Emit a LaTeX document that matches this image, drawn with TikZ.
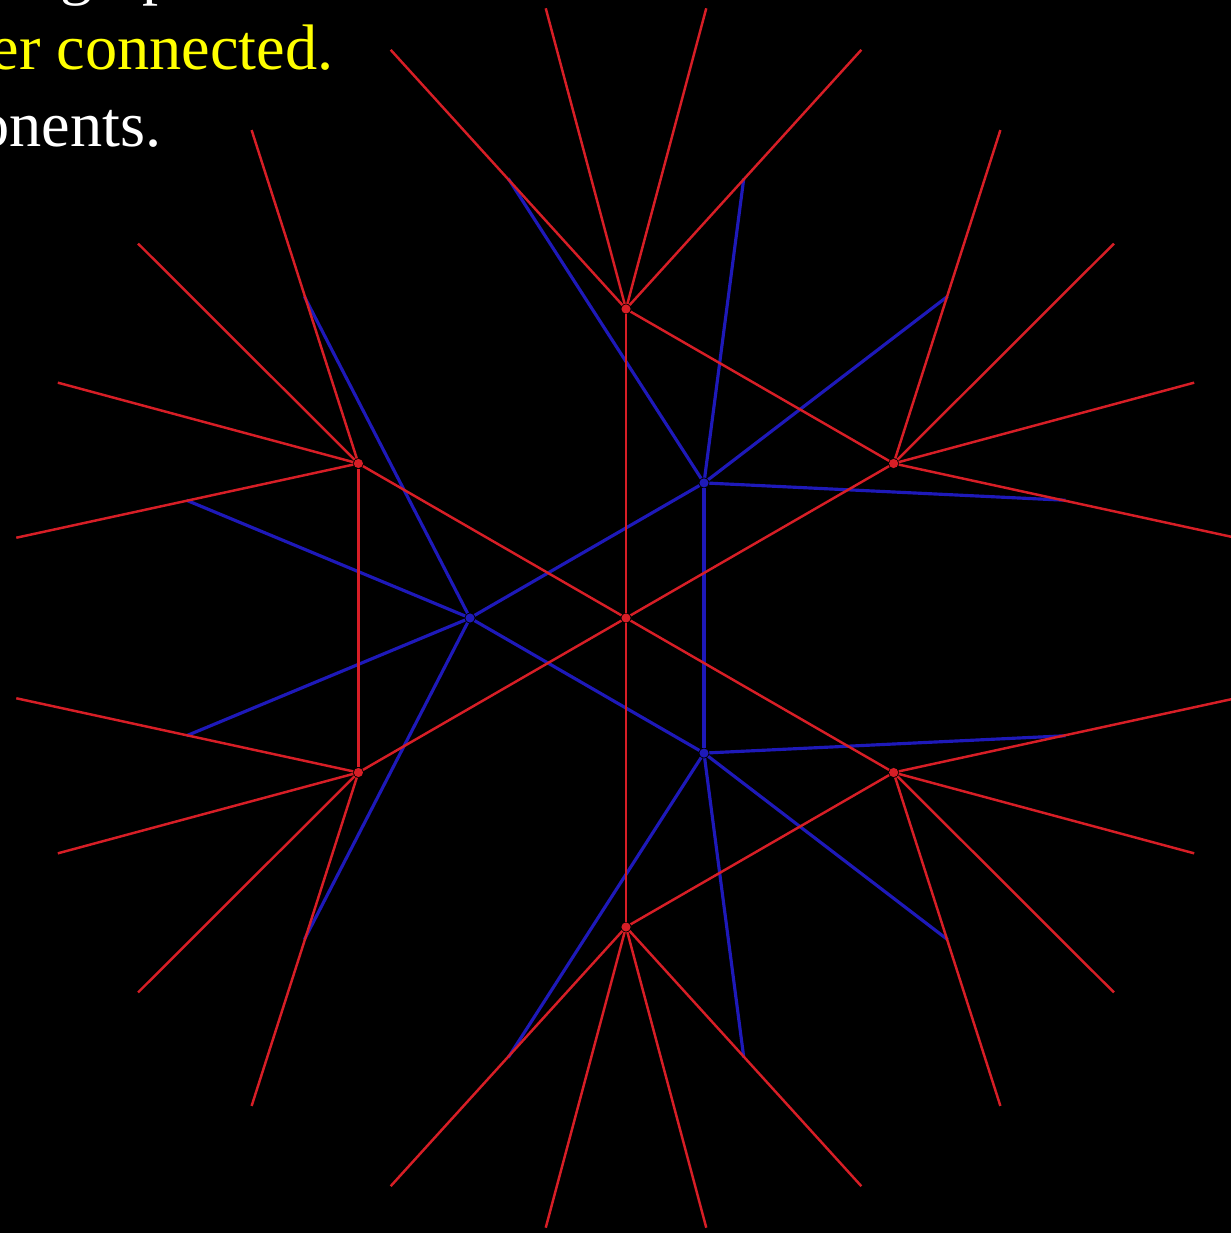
\documentclass[tikz,border=0pt]{standalone}
\usepackage{fontspec}
\setmainfont{Liberation Serif}
\usetikzlibrary{calc}
\definecolor{rline}{RGB}{215,30,38}
\definecolor{bline}{RGB}{30,25,185}
\definecolor{ylw}{RGB}{255,255,0}

\begin{document}
\begin{tikzpicture}[
    rhub/.style={circle, fill=rline, inner sep=0pt, minimum size=2.6pt},
    bhub/.style={circle, fill=bline, inner sep=0pt, minimum size=2.6pt},
    redge/.style={draw=rline, line width=0.7pt},
    bedge/.style={draw=bline, line width=0.9pt},
    txt/.style={font=\fontsize{18.3}{22}\selectfont, inner sep=0pt}
]
\fill[black] (0,0) rectangle (12.31,-12.33);
\useasboundingbox (0,0) rectangle (12.31,-12.33);
\clip (0,0) rectangle (12.31,-12.33);

% slide text, cut off at the left
\node[txt, white, anchor=base west] (t1) at (0.60,0.07) {graph};
\node[txt, ylw, anchor=base east] (t2) at (3.34,-0.70) {er connected.};
\node[txt, white, anchor=base east] (t3) at (1.62,-1.47) {onents.};

\coordinate (c) at (6.26,-6.18);

% blue graph
\node[bhub] (bl) at ($(c)+(180:1.56)$) {};
\node[bhub] (bu) at ($(c)+(60:1.56)$) {};
\node[bhub] (bd) at ($(c)+(-60:1.56)$) {};
\draw[bedge] (bl) -- (bu);
\draw[bedge] (bu) -- (bd);
\draw[bedge] (bd) -- (bl);
\foreach \h/\a in {bl/180, bu/60, bd/-60}
  \foreach \d [count=\i] in {-45,-15,15,45} {
    \coordinate (\h-\i) at ($(c)+({\a+(\d)}:4.55)$);
    \draw[bedge] (\h) -- (\h-\i);
  }

% red graph
\node[rhub] (rc) at (c) {};
\node[rhub] (rt) at ($(c)+(90:3.09)$) {};
\node[rhub] (rur) at ($(c)+(30:3.09)$) {};
\node[rhub] (rlr) at ($(c)+(-30:3.09)$) {};
\node[rhub] (rb) at ($(c)+(-90:3.09)$) {};
\node[rhub] (rll) at ($(c)+(-150:3.09)$) {};
\node[rhub] (rul) at ($(c)+(150:3.09)$) {};
\foreach \h in {rt, rur, rlr, rb, rll, rul}
  \draw[redge] (rc) -- (\h);
\draw[redge] (rt) -- (rur);
\draw[redge] (rlr) -- (rb);
\draw[redge] (rll) -- (rul);
\foreach \h/\a in {rt/90, rur/30, rlr/-30, rb/-90, rll/-150, rul/150}
  \foreach \d [count=\i] in {-22.5,-7.5,7.5,22.5} {
    \coordinate (\h-\i) at ($(c)+({\a+(\d)}:6.15)$);
    \draw[redge] (\h) -- (\h-\i);
  }
\end{tikzpicture}
\end{document}
